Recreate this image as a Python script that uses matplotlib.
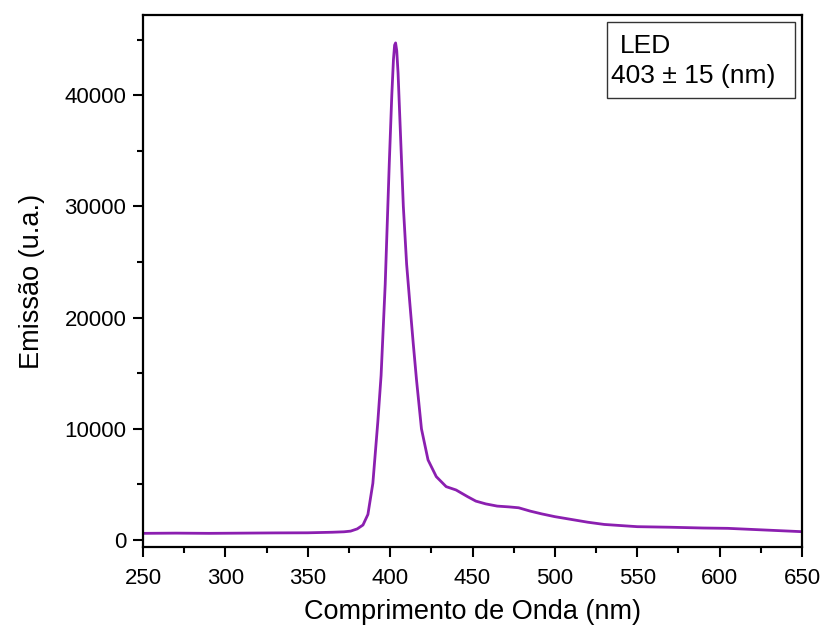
import matplotlib
matplotlib.use("Agg")
import matplotlib.pyplot as plt
from matplotlib.patches import Rectangle
from matplotlib.ticker import MultipleLocator

plt.rcParams['font.family'] = ['Liberation Sans', 'DejaVu Sans']
plt.rcParams['xtick.labelsize'] = 16
plt.rcParams['ytick.labelsize'] = 16
plt.rcParams['xtick.major.pad'] = 8
plt.rcParams['ytick.major.pad'] = 5

# values
wavelength = [250, 270, 290, 310, 330, 350, 365, 372, 376, 380, 383.5, 386.5,
              389.5, 392.5, 394.5, 397, 399.5, 401, 402, 402.7, 403.3, 404,
              404.8, 406, 408, 410, 412, 414, 416, 419, 423, 428, 434, 440, 447,
              452, 458, 465, 472, 478, 485, 492, 500, 510, 520, 530, 540, 550,
              570, 590, 605, 620, 635, 650]
emission = [600, 620, 600, 620, 640, 650, 700, 740, 800, 1000, 1350, 2300,
            5100, 10600, 14800, 23000, 34000, 40000, 43200, 44500, 44700, 44000,
            42000, 37500, 30000, 24800, 21200, 17700, 14400, 10000, 7200, 5700,
            4800, 4500, 3900, 3500, 3250, 3050, 2980, 2900, 2600, 2350, 2100,
            1850, 1600, 1400, 1300, 1200, 1150, 1080, 1050, 950, 850, 750]

legend_lines = ["LED", "403 \u00b1 15 (nm)"]

fig = plt.figure(figsize=(8.22, 6.30), dpi=100)
ax = fig.add_axes([0.174, 0.1317, 0.8017, 0.8443])

ax.plot(wavelength, emission, color='#8b1fb0', lw=2.0)

ax.set_xlim(250, 650)
ax.set_ylim(-630, 47200)
ax.xaxis.set_major_locator(MultipleLocator(50))
ax.xaxis.set_minor_locator(MultipleLocator(25))
ax.yaxis.set_major_locator(MultipleLocator(10000))
ax.yaxis.set_minor_locator(MultipleLocator(5000))

ax.tick_params(which='major', direction='out', length=7, width=1.5)
ax.tick_params(which='minor', direction='out', length=4, width=1.5)
for sp in ax.spines.values():
    sp.set_linewidth(1.6)

ax.set_xlabel("Comprimento de Onda (nm)", fontsize=19.5, labelpad=7)
ax.set_ylabel("Emissão (u.a.)", fontsize=19.5, labelpad=14)

# text box top right
ax.add_patch(Rectangle((0.704, 0.844), 0.285, 0.143, transform=ax.transAxes,
                       fill=False, edgecolor='#333333', lw=1.0))
ax.text(0.724, 0.942, legend_lines[0], transform=ax.transAxes, fontsize=19, va='center')
ax.text(0.710, 0.885, legend_lines[1], transform=ax.transAxes, fontsize=19, va='center')

fig.savefig("out.png", dpi=100)
